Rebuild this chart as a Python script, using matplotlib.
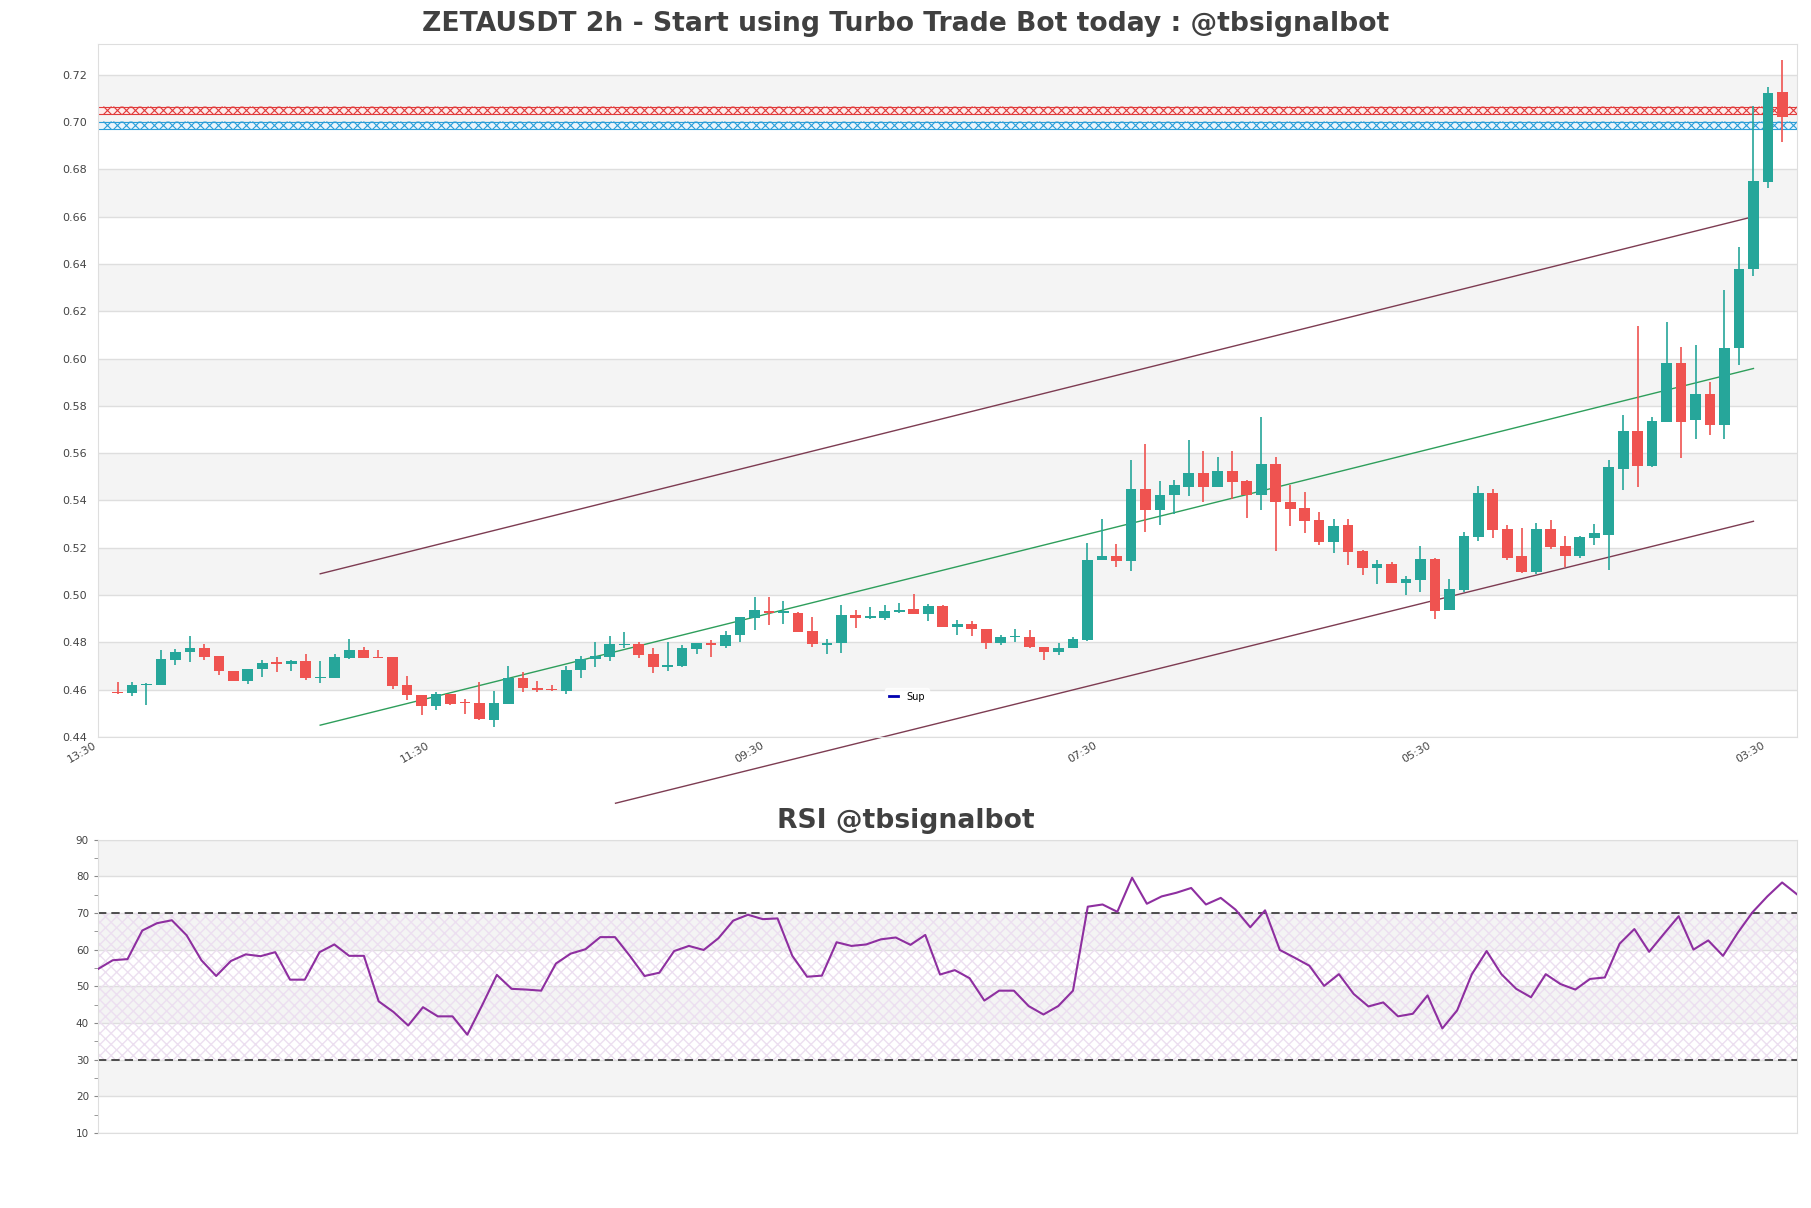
import numpy as np
import matplotlib.pyplot as plt

# 2h candles (oldest first)
opens = [0.4589, 0.4586, 0.4620, 0.4619, 0.4726, 0.4760, 0.4776, 0.4743, 0.4681, 0.4636,
         0.4686, 0.4715, 0.4707, 0.4722, 0.4648, 0.4649, 0.4736, 0.4768, 0.4740, 0.4738,
         0.4618, 0.4579, 0.4530, 0.4580, 0.4547, 0.4545, 0.4471, 0.4541, 0.4650, 0.4608,
         0.4604, 0.4593, 0.4685, 0.4729, 0.4740, 0.4788, 0.4792, 0.4750, 0.4695, 0.4702,
         0.4773, 0.4798, 0.4786, 0.4830, 0.4901, 0.4934, 0.4924, 0.4925, 0.4849, 0.4789,
         0.4796, 0.4917, 0.4901, 0.4904, 0.4927, 0.4942, 0.4918, 0.4955, 0.4863, 0.4879,
         0.4858, 0.4796, 0.4821, 0.4824, 0.4782, 0.4759, 0.4776, 0.4811, 0.5148, 0.5166,
         0.5146, 0.5449, 0.5358, 0.5424, 0.5459, 0.5517, 0.5459, 0.5525, 0.5483, 0.5424,
         0.5555, 0.5394, 0.5369, 0.5318, 0.5223, 0.5295, 0.5185, 0.5114, 0.5130, 0.5050,
         0.5063, 0.5151, 0.4936, 0.5023, 0.5244, 0.5431, 0.5278, 0.5164, 0.5096, 0.5278,
         0.5206, 0.5164, 0.5241, 0.5254, 0.5534, 0.5695, 0.5544, 0.5733, 0.5982, 0.5742,
         0.5851, 0.5721, 0.6043, 0.6377, 0.6745, 0.7128]
highs = [0.4632, 0.4631, 0.4629, 0.4768, 0.4772, 0.4826, 0.4793, 0.4743, 0.4681, 0.4688,
         0.4725, 0.4738, 0.4726, 0.4751, 0.4722, 0.4751, 0.4814, 0.4779, 0.4768, 0.4738,
         0.4656, 0.4579, 0.4592, 0.4580, 0.4561, 0.4634, 0.4596, 0.4701, 0.4676, 0.4636,
         0.4620, 0.4701, 0.4741, 0.4801, 0.4825, 0.4843, 0.4801, 0.4775, 0.4800, 0.4787,
         0.4796, 0.4811, 0.4849, 0.4908, 0.4993, 0.4993, 0.4976, 0.4930, 0.4908, 0.4815,
         0.4959, 0.4937, 0.4951, 0.4959, 0.4968, 0.5006, 0.4963, 0.4958, 0.4896, 0.4892,
         0.4858, 0.4831, 0.4855, 0.4854, 0.4782, 0.4799, 0.4823, 0.5221, 0.5320, 0.5217,
         0.5572, 0.5639, 0.5483, 0.5487, 0.5656, 0.5610, 0.5585, 0.5610, 0.5487, 0.5754,
         0.5585, 0.5466, 0.5437, 0.5352, 0.5321, 0.5321, 0.5191, 0.5147, 0.5138, 0.5082,
         0.5209, 0.5158, 0.5069, 0.5268, 0.5461, 0.5448, 0.5295, 0.5285, 0.5304, 0.5318,
         0.5249, 0.5250, 0.5301, 0.5571, 0.5762, 0.6139, 0.5755, 0.6154, 0.6050, 0.6058,
         0.5899, 0.6288, 0.6471, 0.7066, 0.7148, 0.7263]
lows = [0.4583, 0.4574, 0.4536, 0.4619, 0.4703, 0.4719, 0.4726, 0.4664, 0.4636, 0.4622,
        0.4653, 0.4674, 0.4678, 0.4643, 0.4629, 0.4649, 0.4729, 0.4736, 0.4735, 0.4601,
        0.4557, 0.4492, 0.4513, 0.4534, 0.4499, 0.4471, 0.4442, 0.4541, 0.4589, 0.4589,
        0.4596, 0.4580, 0.4648, 0.4698, 0.4723, 0.4775, 0.4736, 0.4669, 0.4681, 0.4695,
        0.4750, 0.4737, 0.4775, 0.4800, 0.4851, 0.4872, 0.4877, 0.4844, 0.4779, 0.4749,
        0.4756, 0.4859, 0.4897, 0.4893, 0.4923, 0.4918, 0.4892, 0.4863, 0.4832, 0.4828,
        0.4773, 0.4787, 0.4803, 0.4775, 0.4724, 0.4748, 0.4776, 0.4807, 0.5148, 0.5118,
        0.5100, 0.5265, 0.5297, 0.5342, 0.5417, 0.5392, 0.5459, 0.5406, 0.5328, 0.5358,
        0.5185, 0.5290, 0.5261, 0.5210, 0.5177, 0.5127, 0.5084, 0.5048, 0.5050, 0.4999,
        0.5012, 0.4899, 0.4936, 0.5014, 0.5229, 0.5240, 0.5147, 0.5093, 0.5091, 0.5196,
        0.5118, 0.5155, 0.5210, 0.5106, 0.5445, 0.5459, 0.5541, 0.5730, 0.5579, 0.5659,
        0.5678, 0.5659, 0.5972, 0.6347, 0.6719, 0.6914]
closes = [0.4585, 0.4621, 0.4623, 0.4731, 0.4760, 0.4776, 0.4740, 0.4678, 0.4636, 0.4688,
          0.4714, 0.4707, 0.4722, 0.4649, 0.4652, 0.4738, 0.4768, 0.4736, 0.4735, 0.4615,
          0.4577, 0.4530, 0.4583, 0.4541, 0.4543, 0.4474, 0.4545, 0.4650, 0.4606, 0.4600,
          0.4597, 0.4684, 0.4730, 0.4741, 0.4792, 0.4792, 0.4748, 0.4694, 0.4703, 0.4776,
          0.4796, 0.4787, 0.4832, 0.4908, 0.4938, 0.4924, 0.4932, 0.4846, 0.4792, 0.4799,
          0.4917, 0.4901, 0.4913, 0.4934, 0.4939, 0.4918, 0.4955, 0.4863, 0.4879, 0.4855,
          0.4796, 0.4823, 0.4825, 0.4779, 0.4758, 0.4777, 0.4815, 0.5149, 0.5166, 0.5146,
          0.5449, 0.5358, 0.5424, 0.5466, 0.5517, 0.5459, 0.5525, 0.5480, 0.5424, 0.5555,
          0.5392, 0.5365, 0.5314, 0.5223, 0.5294, 0.5182, 0.5114, 0.5130, 0.5050, 0.5066,
          0.5151, 0.4931, 0.5026, 0.5249, 0.5431, 0.5275, 0.5157, 0.5096, 0.5278, 0.5202,
          0.5165, 0.5244, 0.5261, 0.5540, 0.5695, 0.5544, 0.5737, 0.5982, 0.5733, 0.5851,
          0.5717, 0.6046, 0.6380, 0.6752, 0.7124, 0.7020]

rsi = [54.7, 57.1, 57.4, 65.2, 67.2, 68.0, 63.9, 57.1, 52.8, 56.9,
       58.7, 58.2, 59.3, 51.8, 51.8, 59.3, 61.4, 58.3, 58.3, 45.9,
       43.0, 39.3, 44.3, 41.8, 41.8, 36.8, 44.8, 53.1, 49.3, 49.1,
       48.8, 56.2, 58.9, 60.1, 63.4, 63.4, 58.3, 52.8, 53.7, 59.6,
       61.0, 59.9, 63.1, 67.9, 69.5, 68.3, 68.5, 58.3, 52.6, 52.9,
       62.0, 61.0, 61.4, 62.8, 63.3, 61.3, 64.0, 53.2, 54.4, 52.2,
       46.1, 48.8, 48.8, 44.6, 42.3, 44.6, 48.8, 71.7, 72.3, 70.3,
       79.6, 72.5, 74.5, 75.5, 76.8, 72.3, 74.1, 70.9, 66.1, 70.7,
       59.9, 57.8, 55.6, 50.1, 53.3, 47.9, 44.5, 45.6, 41.8, 42.5,
       47.5, 38.5, 43.4, 53.3, 59.6, 53.3, 49.3, 47.0, 53.3, 50.6,
       49.1, 52.0, 52.4, 61.6, 65.6, 59.4, 64.3, 69.1, 60.0, 62.5,
       58.3, 64.6, 70.2, 74.5, 78.3, 75.1]

tick_pos = [-1.35, 21.7, 44.75, 67.8, 90.85, 113.9]
tick_labels = ["13:30", "11:30", "09:30", "07:30", "05:30", "03:30"]

# channel lines: (x index pair, price pair)
upper_x, upper_y = [14, 113], [0.5090, 0.6600]
mid_x, mid_y = [14, 113], [0.4450, 0.5958]
lower_x, lower_y = [34.4, 113], [0.4120, 0.5312]

resist_lvl = 0.7049
support_lvl = 0.6987

up_col = "#26a69a"
dn_col = "#ef5350"
band_col = "#f4f4f4"
grid_col = "#dedede"

fig = plt.figure(figsize=(18.11, 12.08), dpi=100)
ax = fig.add_axes([0.0541, 0.3899, 0.9381, 0.5737])
ax2 = fig.add_axes([0.0541, 0.0621, 0.9381, 0.2429])

# ---- price panel ----
n = len(opens)
x = np.arange(n)
o = np.array(opens); h = np.array(highs); l = np.array(lows); c = np.array(closes)
cols = np.where(c >= o, up_col, dn_col)

for lo_b in np.arange(0.46, 0.74, 0.04):
    ax.axhspan(lo_b, lo_b + 0.02, color=band_col, zorder=0, lw=0)

ax.vlines(x, l, h, colors=cols, lw=1.2, zorder=3)
body = np.maximum(np.abs(c - o), 0.0004)
ax.bar(x, body, bottom=np.minimum(o, c), width=0.74, color=cols, zorder=4)

ax.plot(upper_x, upper_y, color="#7d3c52", lw=1, zorder=2)
ax.plot(mid_x, mid_y, color="#2e9e5b", lw=1, zorder=2)
ax.plot(lower_x, lower_y, color="#7d3c52", lw=1, zorder=2, clip_on=False)

# resistance / support zones: thin band with a row of x markers
xmin, xmax = -1, 116
xs = np.linspace(xmin + 0.3, xmax - 0.3, 183)
half = 0.0015
for lvl, col, fc in [(resist_lvl, "#e03a3a", "#fdeaea"), (support_lvl, "#2b9ed8", "#eaf5fc")]:
    ax.axhspan(lvl - half, lvl + half, facecolor=fc, lw=0, zorder=2)
    ax.axhline(lvl - half, color=col, lw=0.8, zorder=2)
    ax.axhline(lvl + half, color=col, lw=0.8, zorder=2)
    ax.plot(xs, np.full_like(xs, lvl), ls="none", marker="x", ms=5.5, mew=0.8,
            color=col, zorder=2)

ax.plot([], [], color="#0000b0", lw=2, label="Sup")
leg = ax.legend(loc="center", bbox_to_anchor=(0.476, 0.058), fontsize=7,
                handlelength=1, frameon=True, facecolor="white", edgecolor="white")

ax.set_xlim(xmin, xmax)
ax.set_ylim(0.44, 0.733)
ax.set_yticks(np.arange(0.44, 0.7201, 0.02))
ax.set_yticklabels([f"{v:.2f}" for v in np.arange(0.44, 0.7201, 0.02)])
ax.yaxis.grid(True, color=grid_col, lw=1)
ax.set_axisbelow(True)
ax.set_xticks(tick_pos)
ax.set_xticklabels(tick_labels, rotation=30, ha="right")
ax.tick_params(axis="both", length=0, labelsize=8, labelcolor="#444444")
ax.tick_params(axis="y", pad=8)
ax.tick_params(axis="x", pad=2)
for s in ax.spines.values():
    s.set_color(grid_col)

# ---- RSI panel ----
for lo_b in [20, 40, 60, 80]:
    ax2.axhspan(lo_b, lo_b + 10, color=band_col, zorder=0, lw=0)
ax2.axhspan(30, 70, facecolor="none", edgecolor="#ecdff0", hatch="xxx", lw=0, zorder=1)
ax2.axhline(70, color="#333333", ls=(0, (5, 3)), lw=1.2, zorder=2)
ax2.axhline(30, color="#333333", ls=(0, (5, 3)), lw=1.2, zorder=2)
ax2.plot(np.arange(len(rsi)), rsi, color="#8e2fa0", lw=1.5, zorder=3)

ax2.set_xlim(0, len(rsi) - 1)
ax2.set_ylim(10, 90)
ax2.set_yticks(range(10, 91, 10))
ax2.set_yticks(range(15, 90, 10), minor=True)
ax2.yaxis.grid(True, color=grid_col, lw=1)
ax2.set_axisbelow(True)
ax2.set_xticks([])
ax2.tick_params(axis="y", which="both", length=3, color="#888888", labelsize=7.5,
                labelcolor="#444444")
for s in ax2.spines.values():
    s.set_color(grid_col)

fig.text(0.5, 1 - 24 / 1208, "ZETAUSDT 2h - Start using Turbo Trade Bot today : @tbsignalbot",
         ha="center", va="center", fontsize=19.2, fontweight="bold", color="#404040")
fig.text(0.5, 1 - 821 / 1208, "RSI @tbsignalbot",
         ha="center", va="center", fontsize=19.2, fontweight="bold", color="#404040")

fig.savefig("out.png", dpi=100)
